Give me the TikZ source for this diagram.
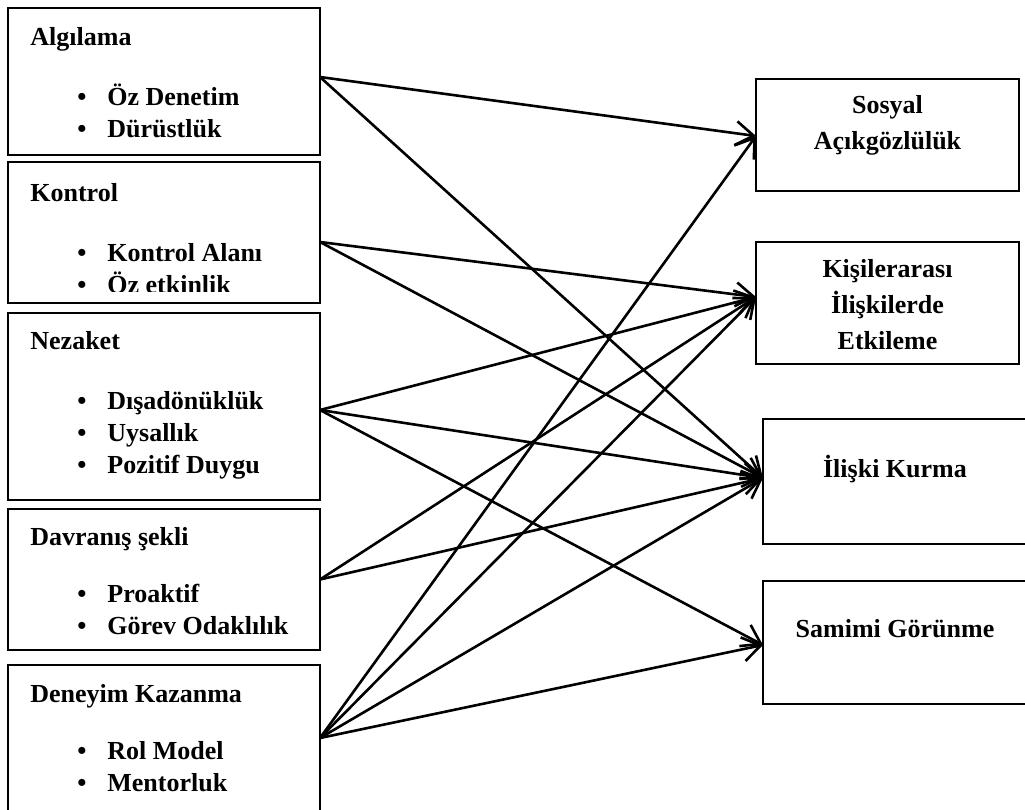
\documentclass[tikz,border=0pt]{standalone}
\usepackage{fontspec}
\setmainfont{Liberation Serif}
\usetikzlibrary{positioning,arrows.meta}

\newcommand{\itm}[1]{\makebox[38.5pt][l]{\hspace{23.5pt}\textbullet}#1}

\begin{document}
\begin{tikzpicture}[x=0.5pt,y=0.5pt,>={Straight Barb[length=9pt,width=12pt]},
                    box/.style={rectangle,draw,line width=1pt,inner sep=0pt,outer sep=0pt},
                    left box/.style={box,minimum width=156pt},
                    right box/.style={box,minimum width=131.5pt},
                    item text/.style={inner sep=0pt,align=left,font=\fontsize{13}{16}\selectfont\bfseries},
                    goal text/.style={inner sep=0pt,align=center,font=\fontsize{13}{18}\selectfont\bfseries},
                    link/.style={->,line width=1.3pt}]

    \useasboundingbox (0,0) rectangle (1025,-810);

    % left column
    \node[left box,minimum height=73.5pt,anchor=north west] (alg) at (8,-8) {};
    \node[left box,minimum height=70.5pt] (kon) [below=3.5pt of alg] {};
    \node[left box,minimum height=93.5pt] (nez) [below=5pt of kon] {};
    \node[left box,minimum height=70.5pt] (dav) [below=4.5pt of nez] {};
    \node[left box,minimum height=80pt] (den) [below=7.5pt of dav] {};

    \node[item text] (alg-t) [below right=9.7pt and 11pt of alg.north west]
        {Algılama\\[14pt]\itm{Öz Denetim}\\\itm{Dürüstlük}};
    \begin{scope}
        \clip (kon.north west) rectangle ([yshift=6pt]kon.south east);
        \node[item text] (kon-t) [below right=10.5pt and 11pt of kon.north west]
            {Kontrol\\[14pt]\itm{Kontrol Alanı}\\\itm{Öz etkinlik}};
    \end{scope}
    \node[item text] (nez-t) [below right=9pt and 11pt of nez.north west]
        {Nezaket\\[14pt]\itm{Dışadönüklük}\\\itm{Uysallık}\\\itm{Pozitif Duygu}};
    \node[item text] (dav-t) [below right=9.2pt and 11pt of dav.north west]
        {Davranış şekli\\[12.5pt]\itm{Proaktif}\\\itm{Görev Odaklılık}};
    \node[item text] (den-t) [below right=9.7pt and 11pt of den.north west]
        {Deneyim Kazanma\\[12.5pt]\itm{Rol Model}\\\itm{Mentorluk}};

    % right column
    \node[right box,minimum height=56pt,anchor=north west] (sos) at (756,-79) {};
    \node[right box,minimum height=61pt] (kis) [below=25.5pt of sos] {};
    \node[right box,minimum width=132pt,minimum height=62.5pt,anchor=north west] (ilk) at (763,-419) {};
    \node[right box,minimum width=132pt,minimum height=61.5pt] (sam) [below=18.5pt of ilk] {};

    \node[goal text] (sos-t) [below=8.2pt of sos.north] {Sosyal\\Açıkgözlülük};
    \node[goal text] (kis-t) [below=8.6pt of kis.north] {Kişilerarası\\İlişkilerde\\Etkileme};
    \node[goal text] (ilk-t) [below=17.9pt of ilk.north] {İlişki Kurma};
    \node[goal text] (sam-t) [below=19pt of sam.north] {Samimi Görünme};

    \path[link]
      ([yshift=2.25pt]alg.east) edge ([yshift=-0.5pt]sos.west)
                                edge ([yshift=1.75pt]ilk.west)
      ([yshift=-4.75pt]kon.east) edge ([yshift=3pt]kis.west)
                                 edge ([yshift=1.75pt]ilk.west)
      ([yshift=-1.75pt]nez.east) edge ([yshift=3pt]kis.west)
                                 edge ([yshift=1.75pt]ilk.west)
                                 edge ([yshift=-1.25pt]sam.west)
      (dav.east) edge ([yshift=3pt]kis.west)
                 edge ([yshift=1.75pt]ilk.west)
      ([yshift=3.5pt]den.east) edge ([yshift=-0.5pt]sos.west)
                               edge ([yshift=3pt]kis.west)
                               edge ([yshift=1.75pt]ilk.west)
                               edge ([yshift=-1.25pt]sam.west);
\end{tikzpicture}
\end{document}
